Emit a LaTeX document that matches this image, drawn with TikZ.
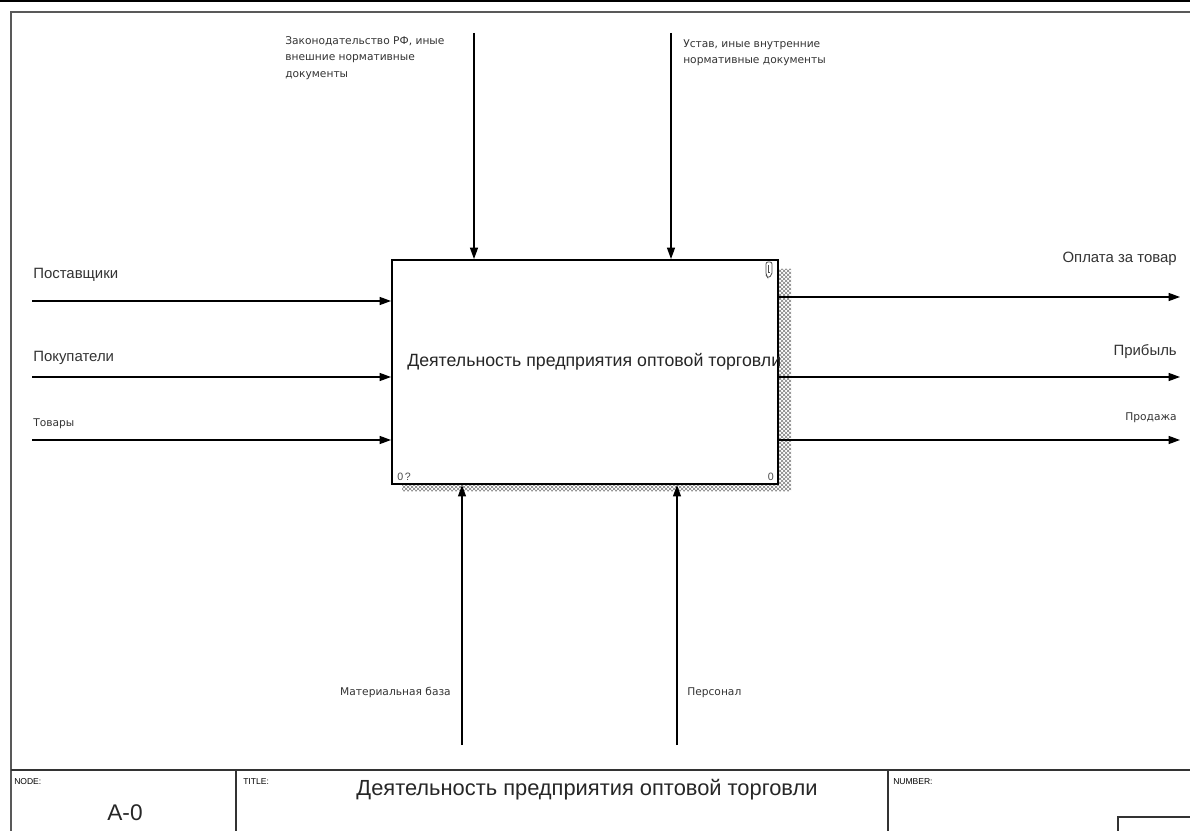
\documentclass[tikz,border=0pt]{standalone}
\usepackage{fontspec}
\setmainfont{Liberation Sans}
\newfontfamily\smallface{DejaVu Sans}
\usepackage{tikz}
\usetikzlibrary{arrows.meta,patterns}

\begin{document}
\begin{tikzpicture}[x=0.75pt,y=0.75pt,yscale=-1,xscale=1,
  arrowline/.style={line width=0.9pt,-{Triangle[length=8.5pt,width=6pt]}},
  lbl/.style={inner sep=0.75pt,font=\fontsize{11.2}{13}\selectfont,text=black!80},
  smalllbl/.style={inner sep=0.75pt,font=\smallface\fontsize{8}{12.4}\selectfont,text=black!80,align=left},
  tinylbl/.style={inner sep=0.75pt,font=\fontsize{6.4}{7}\selectfont,anchor=north west}]
\useasboundingbox (0,0) rectangle (1190,831);

%Frame
\draw [line width=1.5pt] (0,1) -- (1190,1) ;
\draw [line width=1.2pt,color=black!65] (11,831) -- (11,12) -- (1190,12) ;
%Title block
\draw [line width=1pt,color=black!80] (11,770) -- (1190,770) ;
\draw [line width=1pt,color=black!80] (236,770) -- (236,831) ;
\draw [line width=1pt,color=black!80] (888,770) -- (888,831) ;
\draw [line width=1pt,color=black!80] (1190,817) -- (1118,817) -- (1118,831) ;

%Shadow
\fill [pattern=crosshatch dots,pattern color=black] (778,269) -- (791,269) -- (791,491) -- (402,491) -- (402,484) -- (778,484) -- cycle ;
\fill [pattern=crosshatch,pattern color=black!45] (778,269) -- (791,269) -- (791,491) -- (402,491) -- (402,484) -- (778,484) -- cycle ;

%Activity box
\node (act) [draw,line width=1.6pt,fill=white,anchor=north west,inner sep=0,minimum width=289.5pt,minimum height=168pt] at (391,259) {};
\begin{scope}
\clip (act.north west) rectangle (act.south east);
\node (acttext) [anchor=base west,inner sep=0.75pt,font=\fontsize{13.3}{15}\selectfont,text=black!85] at (406,367) {Деятельность предприятия оптовой торговли};
\end{scope}
\node (nodenum) [anchor=base west,inner sep=0.75pt,font=\fontsize{8}{9}\selectfont,text=black!70] at (396,480) {0\,?};
\node (cost) [anchor=base east,inner sep=0.75pt,font=\fontsize{8}{9}\selectfont,text=black!70] at (775,480) {0};
%Note icon
\draw [line width=0.6pt,color=black!70,rounded corners=1.5pt] (766,275) -- (766,262) -- (772,262) -- (772,275) -- (768,278) -- cycle ;
\draw [line width=0.5pt,color=black!70] (768,265) -- (768,272) -- (770,272) ;

%Input ends
\coordinate (in1) at (32,301) ;
\coordinate (in2) at (32,377) ;
\coordinate (in3) at (32,440) ;
%Output ends
\coordinate (out1) at (1180,297) ;
\coordinate (out2) at (1180,377) ;
\coordinate (out3) at (1180,440) ;
%Control ends
\coordinate (ctl1) at (474,33) ;
\coordinate (ctl2) at (671,33) ;
%Mechanism ends
\coordinate (mech1) at (462,745) ;
\coordinate (mech2) at (677,745) ;

%Straight Lines
\draw [arrowline] (in1) -- (in1 -| act.west) ;
\draw [arrowline] (in2) -- (in2 -| act.west) ;
\draw [arrowline] (in3) -- (in3 -| act.west) ;
\draw [arrowline] (out1 -| act.east) -- (out1) ;
\draw [arrowline] (out2 -| act.east) -- (out2) ;
\draw [arrowline] (out3 -| act.east) -- (out3) ;
\draw [arrowline] (ctl1) -- (ctl1 |- act.north) ;
\draw [arrowline] (ctl2) -- (ctl2 |- act.north) ;
\draw [arrowline] (mech1) -- (mech1 |- act.south) ;
\draw [arrowline] (mech2) -- (mech2 |- act.south) ;

% Text Node
\node (supplier) [lbl,anchor=base west] at (32,279) {Поставщики};
% Text Node
\node (buyer) [lbl,anchor=base west] at (32,361) {Покупатели};
% Text Node
\node (goods) [smalllbl,anchor=base west] at (32,426) {Товары};
% Text Node
\node (payment) [lbl,anchor=base east] at (1178,263) {Оплата за товар};
% Text Node
\node (profit) [lbl,anchor=base east] at (1178,355) {Прибыль};
% Text Node
\node (sale) [smalllbl,anchor=base east] at (1178,420) {Продажа};
% Text Node
\node (law) [smalllbl,anchor=north west] at (284,35) {Законодательство РФ, иные\\внешние нормативные\\документы};
% Text Node
\node (charter) [smalllbl,anchor=north west] at (682,38) {Устав, иные внутренние\\нормативные документы};
% Text Node
\node (base) [smalllbl,anchor=base east] at (452,695) {Материальная база};
% Text Node
\node (staff) [smalllbl,anchor=base west] at (686,695) {Персонал};

% Title block text
\node (nodelbl) [tinylbl] at (13,777) {NODE:};
\node (titlelbl) [tinylbl] at (242,777) {TITLE:};
\node (numberlbl) [tinylbl] at (892,777) {NUMBER:};
\node (nodeval) [inner sep=0.75pt,font=\fontsize{17}{19}\selectfont,text=black!85] at (125,813) {A-0};
\node (titleval) [inner sep=0.75pt,font=\fontsize{16.4}{18}\selectfont,text=black!85] at (587,790) {Деятельность предприятия оптовой торговли};

\end{tikzpicture}
\end{document}
